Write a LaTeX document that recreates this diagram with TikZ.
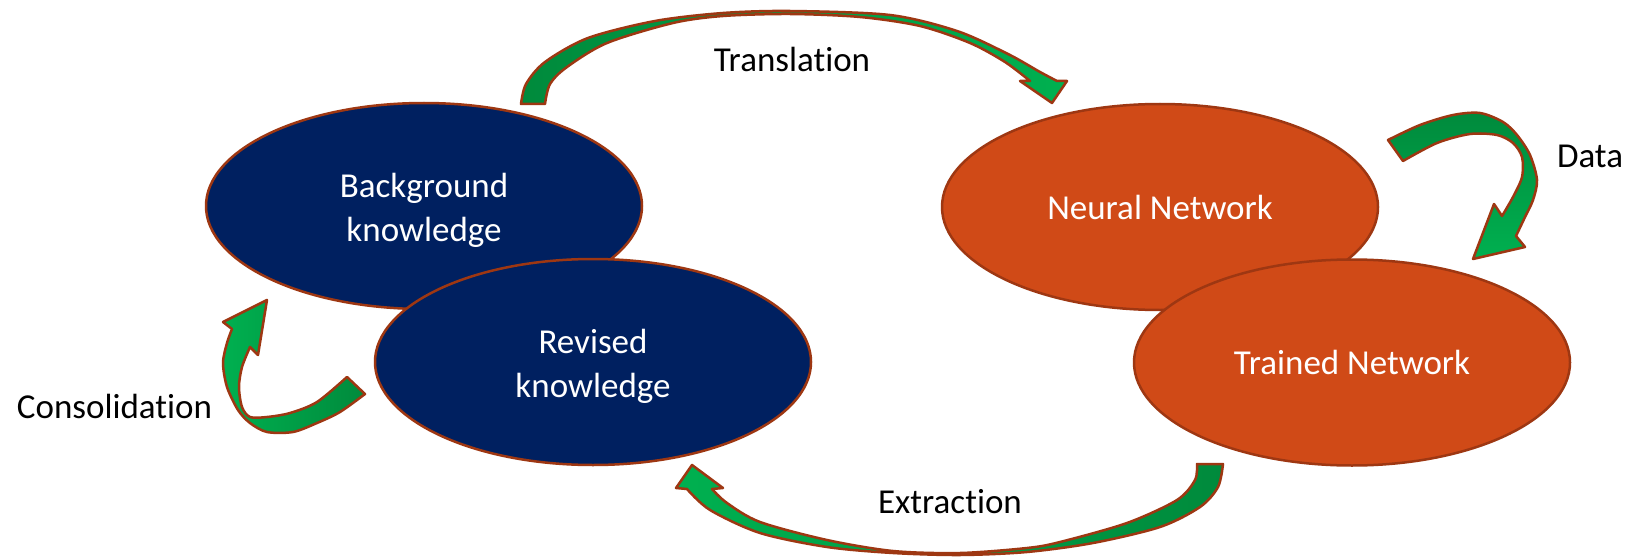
\documentclass[tikz,border=0pt]{standalone}
\usepackage{fontspec}
\setmainfont{Carlito}[Ligatures={NoCommon}]
\usetikzlibrary{shapes.geometric}
\definecolor{navy}{HTML}{002060}
\definecolor{orng}{HTML}{D04A17}
\definecolor{edgec}{RGB}{158,55,18}
\definecolor{gLight}{HTML}{00B050}
\definecolor{gDark}{HTML}{008A3C}
\begin{document}
\begin{tikzpicture}[x=1pt,y=-1pt,
  oval/.style={ellipse, draw=edgec, line width=2.5pt, minimum width=436pt, minimum height=206pt, inner sep=0pt, text=white, align=center, font=\fontsize{35}{44}\selectfont},
  blueoval/.style={oval, fill=navy},
  orangeoval/.style={oval, fill=orng},
  band/.style={draw=edgec, line width=2.5pt, line join=round},
  lbl/.style={font=\fontsize{35}{44}\selectfont, anchor=base, inner sep=0pt}]
\useasboundingbox (0,0) rectangle (1637,559);
\fill[white] (0,0) rectangle (1637,559);

\node[blueoval] (bk) at (424,206) {\rule{0pt}{34pt}Background\\knowledge};
\node[blueoval] (rk) at (593,362) {\rule{0pt}{34pt}Revised\\knowledge};
\node[orangeoval] (nn) at (1160,207) {Neural Network};
\node[orangeoval] (tn) at (1352,362.5) {Trained Network};

% Translation
\path[band, left color=gDark, right color=gLight]
 plot[smooth] coordinates {(521,104) (526,84) (545,62) (588,38) (655,21) (723,13) (790,11) (890,15) (957,31) (1008,54) (1040,72) (1057,81)}
 -- (1067,81) -- (1052,103) -- (1020,81) -- (1030,81)
 -- plot[smooth] coordinates {(1030,81) (1005,62) (970,43) (920,26) (860,17) (790,14) (723,16) (673,23) (607,43) (567,67) (550,84) (545,104)}
 -- cycle;

% Data
\path[band, top color=gDark, bottom color=gLight]
 plot[smooth] coordinates {(1388,140) (1420,125) (1453,115) (1480,113) (1503,122) (1517,135) (1530,155) (1537,180) (1533,200) (1525,217) (1516,236)}
 -- (1525,247) -- (1473,259) -- (1494,204) -- (1502,216)
 -- plot[smooth] coordinates {(1502,216) (1513,197) (1522,177) (1522,157) (1513,143) (1497,135) (1470,134) (1437,143) (1403,161)}
 -- cycle;

% Consolidation
\path[band, left color=gLight, right color=gDark]
 plot[smooth] coordinates {(365,394) (340,412) (317,423) (293,432) (267,432) (250,423) (238,410) (227,387) (223,363) (227,343) (232,329)}
 -- (223,322) -- (267,300) -- (258,355) -- (250,347)
 -- plot[smooth] coordinates {(250,347) (242,367) (239,387) (242,407) (250,417) (267,417) (290,413) (317,402) (347,377)}
 -- cycle;

% Extraction
\path[band, left color=gLight, right color=gDark]
 plot[smooth] coordinates {(1223,464) (1218,487) (1200,507) (1160,527) (1093,543) (1027,552) (960,555) (893,553) (827,547) (760,533) (710,510) (687,489)}
 -- (676,488) -- (692,465) -- (723,488) -- (712,489)
 -- plot[smooth] coordinates {(712,489) (727,503) (760,522) (827,540) (893,551) (960,553) (1027,548) (1060,542) (1127,523) (1177,500) (1195,480) (1197,464)}
 -- cycle;

\node[lbl] (tr) at (792,72) {Translation};
\node[lbl] (da) at (1590,167) {Data};
\node[lbl] (co) at (114.5,418) {Consolidation};
\node[lbl] (ex) at (950,513) {Extraction};
\end{tikzpicture}
\end{document}
